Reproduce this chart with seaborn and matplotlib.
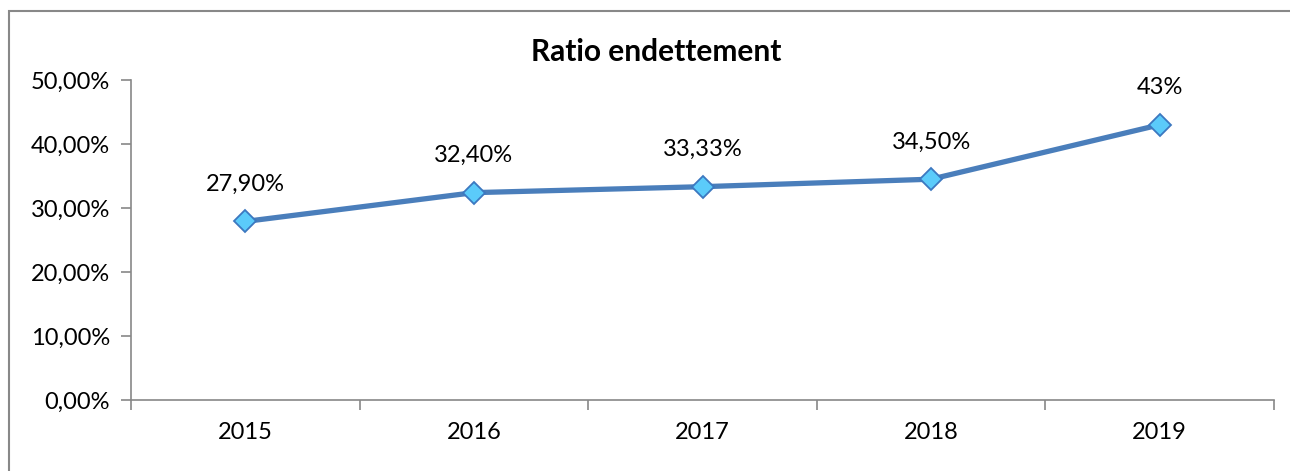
import matplotlib
matplotlib.use("Agg")
import matplotlib.pyplot as plt
import seaborn as sns
import pandas as pd
from matplotlib.patches import Rectangle
from matplotlib.ticker import FuncFormatter

years = ["2015", "2016", "2017", "2018", "2019"]
ratios = [27.90, 32.40, 33.33, 34.50, 43.0]
labels = ["27,90%", "32,40%", "33,33%", "34,50%", "43%"]
yticks = [0, 10, 20, 30, 40, 50]

sns.set_theme(style="white")
plt.rcParams['font.family'] = ['Lato', 'DejaVu Sans']

W, H = 1290, 471
fig = plt.figure(figsize=(W / 100, H / 100), dpi=100)
ax = fig.add_axes([131 / W, 1 - 400 / H, (1274 - 131) / W, (400 - 80) / H])

# figure border
fig.patches.append(Rectangle((9 / W, -0.1), 1.2, 1 - 11 / H + 0.1, transform=fig.transFigure,
                             fill=False, edgecolor="#888888", linewidth=1.5))

df = pd.DataFrame({"year": years, "ratio": ratios})
df["x"] = range(len(years))
sns.lineplot(data=df, x="x", y="ratio", ax=ax, color="#4A7EBB", linewidth=3.8,
             marker="D", markersize=11, markerfacecolor="#5BCBFA",
             markeredgecolor="#3C78C0", markeredgewidth=1.3)

for xi, yi, lab in zip(df["x"], df["ratio"], labels):
    ax.annotate(lab, (xi, yi), xytext=(0, 19), textcoords="offset points",
                ha="center", va="bottom", fontsize=17, color="#000000")

ax.set_xlim(-0.5, len(years) - 0.5)
ax.set_ylim(0, 50)
ax.set_yticks(yticks)
ax.yaxis.set_major_formatter(FuncFormatter(lambda v, p: f"{v:.2f}".replace(".", ",") + "%"))
ax.set_xticks([i - 0.5 for i in range(len(years) + 1)])
ax.set_xticklabels([])
ax.set_xticks(list(range(len(years))), minor=True)
ax.set_xticklabels(years, minor=True)
ax.tick_params(axis="x", which="major", direction="out", length=7, width=1.2, color="#888888", bottom=True)
ax.tick_params(axis="x", which="minor", length=0, pad=16, labelsize=17, labelcolor="#000000")
ax.tick_params(axis="y", direction="out", length=7, width=1.2, color="#888888", left=True,
               labelsize=17, labelcolor="#000000", pad=8)
ax.set_xlabel("")
ax.set_ylabel("")
for s in ["top", "right"]:
    ax.spines[s].set_visible(False)
for s in ["left", "bottom"]:
    ax.spines[s].set_color("#888888")
    ax.spines[s].set_linewidth(1.2)

fig.text(656 / W, 1 - 52 / H, "Ratio endettement", ha="center", va="center",
         fontsize=21.5, fontweight="bold", color="#000000")

fig.savefig("out.png", dpi=100)
